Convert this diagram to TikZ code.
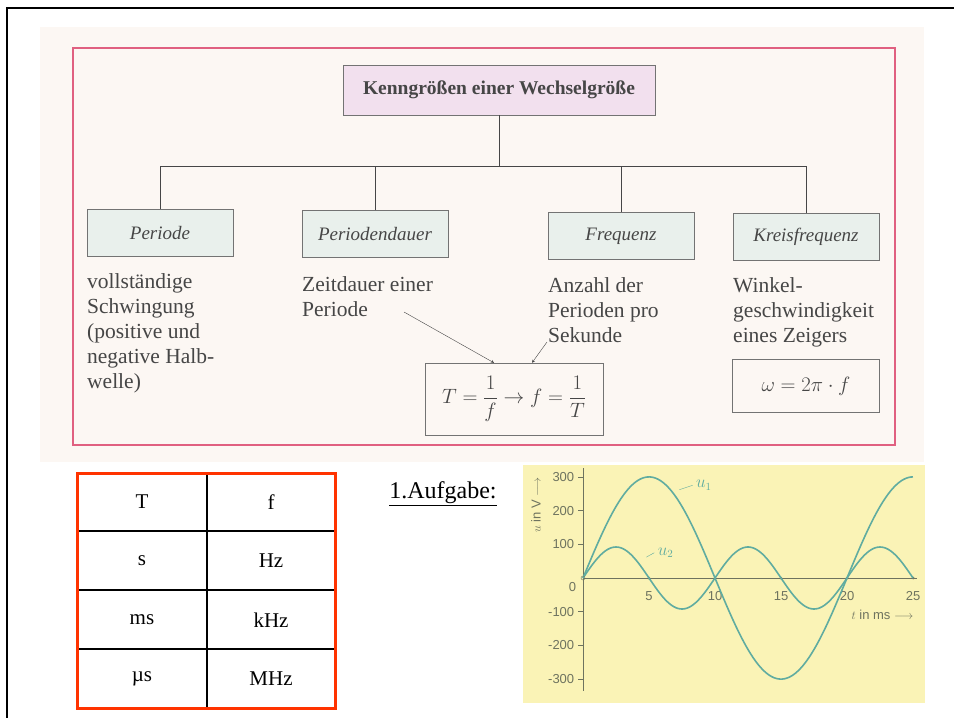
\documentclass[tikz,border=0pt]{standalone}
\usepackage{fontspec}
\setmainfont{Liberation Serif}
\newfontfamily\plotfont{Liberation Sans}
\usetikzlibrary{positioning}

\definecolor{framepink}{RGB}{224,96,128}
\definecolor{paper}{RGB}{252,247,243}
\definecolor{topfill}{RGB}{242,224,238}
\definecolor{boxfill}{RGB}{233,240,236}
\definecolor{tabred}{RGB}{255,51,0}
\definecolor{plotbg}{RGB}{250,243,182}
\definecolor{wave}{RGB}{96,172,160}
\definecolor{axisgray}{RGB}{110,115,95}
\definecolor{inkgray}{RGB}{70,70,70}

\tikzset{
  kbox/.style={draw=black!55, fill=boxfill, minimum width=146pt, minimum height=47pt,
    font=\itshape\fontsize{19}{22}\selectfont, text=inkgray},
  desc/.style={anchor=north west, align=left, inner sep=0pt, text=inkgray,
    font=\fontsize{21.5}{25}\selectfont},
  fbox/.style={draw=black!55, fill=paper, text=inkgray},
  cell/.style={font=\fontsize{21}{24}\selectfont},
  ticklab/.style={font=\plotfont\fontsize{13}{15}\selectfont, text=axisgray},
}

\begin{document}
\begin{tikzpicture}[x=1pt,y=-1pt]
\useasboundingbox (0,0) rectangle (954,718);
\fill[white] (0,0) rectangle (954,718);
\draw[line width=2.2pt] (954,8) -- (7,8) -- (7,718);

% upper chart
\fill[paper] (40,27) rectangle (924,462);
\draw[framepink, line width=2pt] (73,48) rectangle (895,445);

\node[draw=black!55, fill=topfill, minimum width=312pt, minimum height=50pt,
  font=\bfseries\fontsize{19.5}{22}\selectfont, text=inkgray] (top) at (499,90)
  {Kenngrößen einer Wechselgröße};

\node[kbox] (periode) at (160,233) {Periode};
\node[kbox] (dauer) at (375,234) {Periodendauer};
\node[kbox] (freq) at (621,236) {Frequenz};
\node[kbox] (kreis) at (806,237) {Kreisfrequenz};

\coordinate (bus) at (0,166);
\draw[inkgray] (top.south) -- (top.south |- bus);
\draw[inkgray] (periode.north |- bus) -- (kreis.north |- bus);
\foreach \n in {periode,dauer,freq,kreis}
  \draw[inkgray] (\n.north) -- (\n.north |- bus);

\node[desc] (tperiode) at (87,273) {vollständige\\Schwingung\\(positive und\\negative Halb-\\welle)};
\node[desc] (tdauer) at (302,276) {Zeitdauer einer\\Periode};
\node[desc] (tfreq) at (548,277) {Anzahl der\\Perioden pro\\Sekunde};
\node[desc] (tkreis) at (733,277) {Winkel-\\geschwindigkeit\\eines Zeigers};

\node[fbox, minimum width=178pt, minimum height=72pt, font=\fontsize{20}{24}\selectfont]
  (formel) at (514,399) {$\displaystyle T=\frac{1}{f}\rightarrow f=\frac{1}{T}$};
\node[fbox, minimum width=147pt, minimum height=53pt, font=\fontsize{21}{24}\selectfont]
  (omega) at (806,386) {$\omega=2\pi\cdot f$};

\coordinate (pfeil1) at (404,312);
\coordinate (pfeil2) at (547,342);
\draw[-stealth, inkgray] (pfeil1) -- ([xshift=-20pt]formel.north);
\draw[-stealth, inkgray] (pfeil2) -- ([xshift=18pt]formel.north);

% table
\foreach \y in {531,590,649} \draw[line width=1.3pt] (77,\y) -- (335,\y);
\draw[line width=1.3pt] (207,473) -- (207,708);
\draw[tabred, line width=3pt] (77,473) rectangle (335,708);
\foreach \a/\b [count=\i] in {T/f, s/Hz, ms/kHz, µs/MHz} {
  \node[cell] (links\i) at (142,{502+59*(\i-1)}) {\a};
  \node[cell] (rechts\i) at (271,{502+59*(\i-1)}) {\b};
}

\node[font=\fontsize{24}{26}\selectfont] (aufgabe) at (443,494) {\underline{1.Aufgabe:}};

% plot
\fill[plotbg] (523,465) rectangle (925,703);
\begin{scope}[shift={(583,578)}, x=13.2pt, y=0.337pt]
  \draw[axisgray, thick] (0,-335) -- (0,325);
  \draw[axisgray, thick] (0,0) -- (25.3,0);
  \foreach \v in {-300,-200,-100,100,200,300} {
    \draw[axisgray, thick] (-0.35,\v) -- (0,\v);
    \node[ticklab, anchor=east] (y\v) at (-0.4,\v) {\v};
  }
  \node[ticklab, anchor=north east] (y0) at (-0.25,-2) {0};
  \foreach \t in {5,10,15,20,25} {
    \fill[axisgray] (\t,0) circle (1.5pt);
    \node[ticklab, anchor=north] (x\t) at (\t,-30) {\t};
  }
  \draw[wave, line width=1.6pt, domain=0:25, samples=150, smooth]
    plot (\x, {300*sin(18*\x)});
  \draw[wave, line width=1.6pt, domain=0:25, samples=150, smooth]
    plot (\x, {92*sin(36*\x)});
  \draw[axisgray] (0,0) circle (2pt);
  \node[ticklab, text=wave, anchor=west, font=\fontsize{16}{18}\selectfont] (u1) at (8.3,275) {$u_1$};
  \draw[wave] (7.3,262) -- (u1.west);
  \node[ticklab, text=wave, anchor=west, font=\fontsize{16}{18}\selectfont] (u2) at (5.4,75) {$u_2$};
  \draw[wave] (4.8,62) -- (u2.west);
  \node[ticklab, anchor=east] (xlab) at (25.3,-108) {$t$ in ms $\longrightarrow$};
\end{scope}
\node[ticklab, rotate=90] (ylab) at (536,505) {$u$ in V $\longrightarrow$};
\end{tikzpicture}
\end{document}
